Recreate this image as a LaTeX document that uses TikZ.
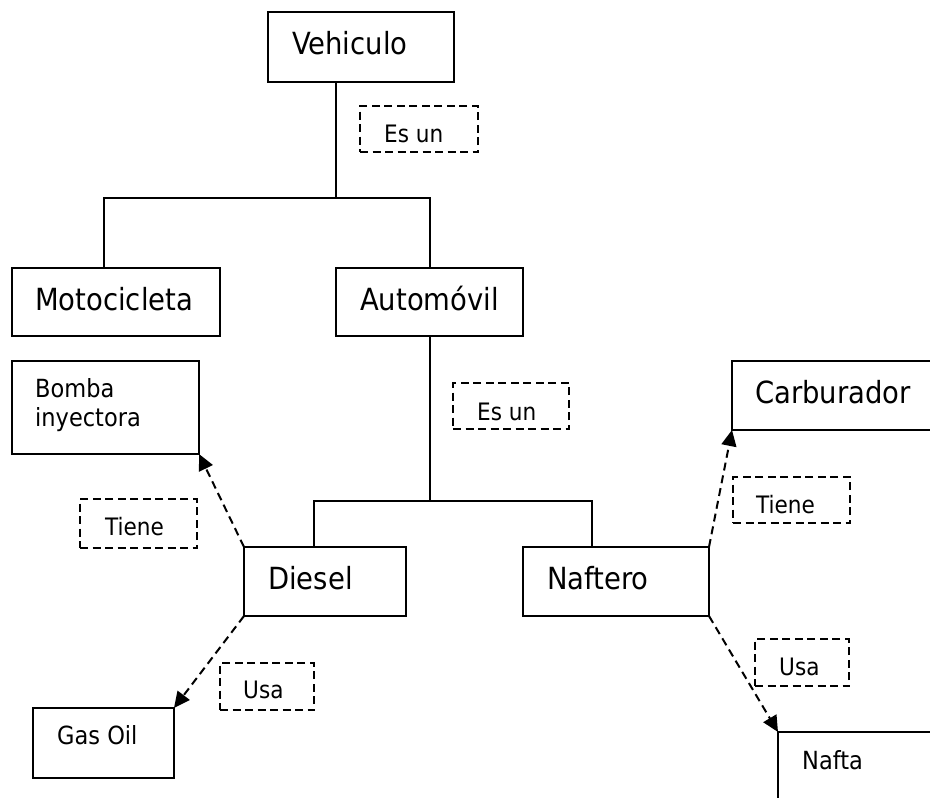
\documentclass[tikz,border=0pt]{standalone}
\usepackage{fontspec}
\setmainfont{DejaVu Sans Condensed}
\usetikzlibrary{arrows.meta}

\tikzset{
  frame/.style={draw, line width=2pt, rectangle, anchor=north west,
    inner sep=0pt, outer sep=0pt},
  relbox/.style={frame, dash pattern=on 8pt off 4.5pt},
  bigtxt/.style={anchor=base west, inner sep=0pt, font=\fontsize{30.5}{36}\selectfont},
  smalltxt/.style={anchor=base west, inner sep=0pt, font=\fontsize{24}{29}\selectfont},
  boxtxt/.style={anchor=base west, inner sep=0pt, font=\fontsize{25}{30}\selectfont},
  tree/.style={line width=2pt},
  rel/.style={line width=2pt, dash pattern=on 8pt off 5pt,
    -{Triangle[length=16pt,width=15pt]}},
}

\begin{document}
\begin{tikzpicture}[x=1pt,y=-1pt]
\useasboundingbox (0,0) rectangle (930,798);
\clip (0,0) rectangle (930,798);

% boxes of the hierarchy
\node[frame, minimum width=186pt, minimum height=70pt] (veh) at (268,12) {};
\node[frame, minimum width=208pt, minimum height=68pt] (moto) at (12,268) {};
\node[frame, minimum width=187pt, minimum height=68pt] (auto) at (336,268) {};
\node[frame, minimum width=162pt, minimum height=69pt] (diesel) at (244,547) {};
\node[frame, minimum width=186pt, minimum height=69pt] (naftero) at (523,547) {};
\node[frame, minimum width=218pt, minimum height=69pt] (carb) at (732,361) {};
\node[frame, minimum width=187pt, minimum height=93pt] (bomba) at (12,361) {};
\node[frame, minimum width=141pt, minimum height=70pt] (gasoil) at (33,708) {};
\node[frame, minimum width=200pt, minimum height=70pt] (nafta) at (778,732) {};

% relation labels
\node[relbox, minimum width=118pt, minimum height=46pt] (esun1) at (360,106) {};
\node[relbox, minimum width=116pt, minimum height=46pt] (esun2) at (453,383) {};
\node[relbox, minimum width=117pt, minimum height=49pt] (tiene1) at (80,499) {};
\node[relbox, minimum width=117pt, minimum height=46pt] (tiene2) at (733,477) {};
\node[relbox, minimum width=94pt, minimum height=47pt] (usa1) at (220,663) {};
\node[relbox, minimum width=94pt, minimum height=47pt] (usa2) at (755,639) {};

% texts
\node[bigtxt] (vehT) at ([shift={(24,42)}]veh.north west) {Vehiculo};
\node[bigtxt] (motoT) at ([shift={(23,42)}]moto.north west) {Motocicleta};
\node[bigtxt] (autoT) at ([shift={(24,42)}]auto.north west) {Automóvil};
\node[bigtxt] (dieselT) at ([shift={(24,42)}]diesel.north west) {Diesel};
\node[bigtxt] (nafteroT) at ([shift={(24,42)}]naftero.north west) {Naftero};
\node[bigtxt] (carbT) at ([shift={(23,42)}]carb.north west) {Carburador};
\node[boxtxt] (bombaT1) at ([shift={(23,36)}]bomba.north west) {Bomba};
\node[boxtxt] (bombaT2) at ([shift={(23,65)}]bomba.north west) {inyectora};
\node[boxtxt] (gasoilT) at ([shift={(24,36)}]gasoil.north west) {Gas Oil};
\node[boxtxt] (naftaT) at ([shift={(24,37)}]nafta.north west) {Nafta};
\node[smalltxt] (esun1T) at ([shift={(24,36)}]esun1.north west) {Es un};
\node[smalltxt] (esun2T) at ([shift={(24,37)}]esun2.north west) {Es un};
\node[smalltxt] (tiene1T) at ([shift={(25,36)}]tiene1.north west) {Tiene};
\node[smalltxt] (tiene2T) at ([shift={(23,36)}]tiene2.north west) {Tiene};
\node[smalltxt] (usa1T) at ([shift={(23,35)}]usa1.north west) {Usa};
\node[smalltxt] (usa2T) at ([shift={(24,36)}]usa2.north west) {Usa};

% tree joints
\coordinate (j1) at (336,198);
\coordinate (j1m) at (104,198);
\coordinate (j1a) at (430,198);
\coordinate (j2) at (430,501);
\coordinate (j2d) at (314,501);
\coordinate (j2n) at (592,501);

\draw[tree] (j1 |- veh.south) -- (j1);
\draw[tree] (j1m |- moto.north) -- (j1m) -- (j1a) -- (j1a |- auto.north);
\draw[tree] (j2 |- auto.south) -- (j2);
\draw[tree] (j2d |- diesel.north) -- (j2d) -- (j2n) -- (j2n |- naftero.north);

% dashed relations
\draw[rel] (diesel.north west) -- (bomba.south east);
\draw[rel] (diesel.south west) -- (gasoil.north east);
\draw[rel] (naftero.north east) -- (carb.south west);
\draw[rel] (naftero.south east) -- (nafta.north west);
\end{tikzpicture}
\end{document}
